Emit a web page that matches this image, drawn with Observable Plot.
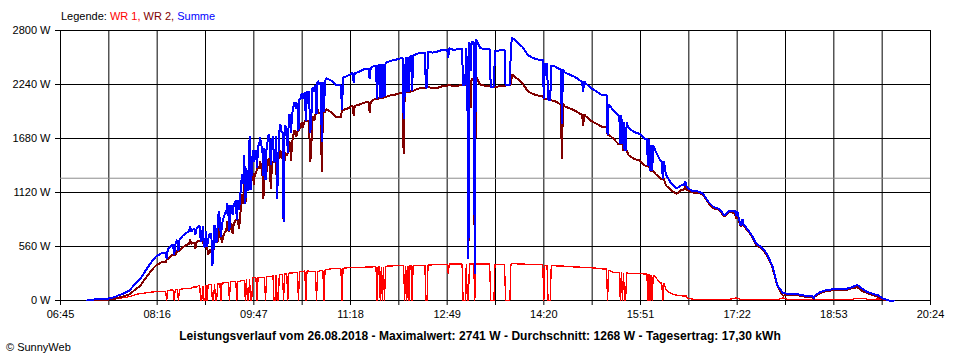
<!DOCTYPE html>
<html>
<head>
<meta charset="utf-8">
<script src="https://cdn.jsdelivr.net/npm/d3@7"></script>
<script src="https://cdn.jsdelivr.net/npm/@observablehq/plot@0.6"></script>
<style>
  html, body { margin: 0; padding: 0; background: #fff; }
  #wrap { position: relative; width: 960px; height: 360px; font-family: "Liberation Sans", Arial, sans-serif; color: #000; overflow: hidden; }
  #chart { position: absolute; left: 0; top: 0; }
  #legend { position: absolute; left: 61px; top: 11px; font-size: 11px; line-height: 11px; white-space: pre; }
  #caption { position: absolute; left: 0; width: 960px; top: 330px; text-align: center; font-size: 12px; line-height: 12px; font-weight: bold; letter-spacing: 0.05px; white-space: pre; }
  #copy { position: absolute; left: 6px; top: 342px; font-size: 11px; line-height: 11px; white-space: pre; }
</style>
</head>
<body>
<div id="wrap">
  <div id="chart"></div>
  <div id="legend"></div>
  <div id="caption"></div>
  <div id="copy"></div>
</div>
<script>
// ---------------- data ----------------
const seriesNames = ["WR 1", "WR 2", "Summe"];
const seriesColors = ["#ff0000", "#800000", "#0000ff"];

const times = [
  "07:10","07:15","07:20","07:25","07:30","07:35","07:40","07:45","07:50","07:55",
  "08:00","08:05","08:10","08:15","08:20","08:25","08:30","08:35","08:40","08:45","08:50","08:55",
  "09:00","09:05","09:10","09:15","09:20","09:25","09:30","09:35","09:40","09:45","09:50","09:55",
  "10:00","10:05","10:10","10:15","10:20","10:25","10:30","10:35","10:40","10:45","10:50","10:55",
  "11:00","11:05","11:10","11:15","11:20","11:25","11:30","11:35","11:40","11:45","11:50","11:55",
  "12:00","12:05","12:10","12:15","12:20","12:25","12:30","12:35","12:40","12:45","12:50","12:55",
  "13:00","13:05","13:10","13:15","13:20","13:25","13:30","13:35","13:40","13:45","13:50","13:55",
  "14:00","14:05","14:10","14:15","14:20","14:25","14:30","14:35","14:40","14:45","14:50","14:55",
  "15:00","15:05","15:10","15:15","15:20","15:25","15:30","15:35","15:40","15:45","15:50","15:55",
  "16:00","16:05","16:10","16:15","16:20","16:25","16:30","16:35","16:40","16:45","16:50","16:55",
  "17:00","17:05","17:10","17:15","17:20","17:25","17:30","17:35","17:40","17:45","17:50","17:55",
  "18:00","18:05","18:10","18:15","18:20","18:25","18:30","18:35","18:40","18:45","18:50","18:55",
  "19:00","19:05","19:10","19:15","19:20","19:25","19:30","19:35","19:40","19:45","19:50"
];

// WR 1 (W), 5-minute readings
const wr1 = [
  0, 4, 6, 8, 10, 16, 25, 30, 40, 60,
  72, 78, 86, 92, 96, 104, 110, 114, 120, 128, 140, 155,
  162, 168, 172, 180, 188, 195, 200, 210, 225, 235, 240, 242,
  250, 265, 272, 276, 285, 292, 300, 305, 300, 300, 310, 320,
  329, 330, 335, 339, 340, 342, 345, 347, 350, 352, 355, 358,
  360, 362, 362, 365, 366, 366, 368, 370, 377, 376, 380, 378,
  380, 380, 380, 378, 380, 378, 375, 373, 372, 375, 382, 380,
  378, 375, 373, 372, 366, 362, 360, 358, 352, 350, 348, 345,
  340, 339, 335, 328, 315, 294, 294, 290, 280, 278, 277, 276,
  262, 242, 180, 110, 70, 55, 48, 25, 14, 12, 12, 12,
  12, 12, 12, 12, 25, 12, 12, 12, 12, 12, 12, 12,
  10, 28, 10, 10, 10, 10, 10, 10, 10, 10, 10, 10,
  10, 10, 12, 24, 24, 12, 12, 15, 10, 0, 0
];

// WR 2 (W), 5-minute readings
const wr2 = [
  0, 5, 7, 9, 10, 16, 30, 45, 65, 110,
  150, 230, 305, 365, 395, 430, 470, 515, 550, 585, 600, 620,
  560, 520, 610, 660, 720, 790, 840, 1000, 1150, 1320, 1370, 1340,
  1400, 1440, 1480, 1530, 1640, 1760, 1790, 1860, 1900, 1935, 1955, 1985,
  1950, 1900, 1975, 1990, 2020, 2025, 2050, 2060, 2085, 2100, 2110, 2125,
  2135, 2150, 2165, 2175, 2190, 2205, 2215, 2200, 2205, 2225, 2235, 2220,
  2230, 2240, 2300, 2330, 2240, 2225, 2215, 2215, 2225, 2240, 2345, 2300,
  2250, 2170, 2140, 2125, 2090, 2075, 2070, 2040, 2010, 1990, 1965, 1930,
  1905, 1860, 1830, 1800, 1720, 1684, 1625, 1556, 1504, 1469, 1452, 1400,
  1348, 1313, 1262, 1193, 1141, 1106, 1150, 1145, 1120, 1120, 1095, 1010,
  955, 940, 870, 920, 905, 775, 750, 680, 576, 541, 472, 351,
  146, 50, 59, 59, 52, 42, 35, 40, 76, 94, 104, 111,
  111, 111, 126, 138, 97, 74, 57, 37, 7, 0, 0
];

// one-minute readings that differ (drop-outs, dips, short peaks)
const wr1EventTimes = [
  "08:25","08:32","08:36","08:57","08:58","09:00","09:01","09:03","09:08","09:09","09:11","09:12",
  "09:16","09:24","09:31","09:39","09:41","09:42","09:44","09:45","09:50","09:58","10:06","10:07",
  "10:09","10:10","10:15","10:19","10:29","10:36","10:46","10:53","11:10","11:43","11:46","11:48",
  "11:50","12:09","12:11","12:13","12:16","12:29","12:30","12:50","13:04","13:05","13:06","13:08",
  "13:09","13:15","13:30","13:31","13:32","13:33","13:44","13:45","13:46","13:47","13:48","14:20",
  "14:24","14:25","14:26","15:20","15:32","15:34","15:36","15:37","15:58","16:00","16:02","16:12"
];
const wr1EventValues = [
  0,0,0,0,0,0,0,0,0,0,0,0,
  0,0,0,0,0,0,0,0,0,0,0,0,
  0,0,0,0,0,0,0,0,0,0,0,0,
  0,0,0,0,0,0,0,280,0,0,0,0,
  0,0,0,0,0,0,0,0,0,0,0,0,
  0,0,0,0,0,0,0,0,0,0,0,0
];
const wr2EventTimes = [
  "08:47","08:52","09:04","09:08","09:14","09:17","09:22","09:27","09:33","09:36","09:38","09:43",
  "09:47","09:53","09:56","09:58","10:01","10:03","10:09","10:12","10:15","10:18","10:22","10:27",
  "10:32","10:40","10:41","10:44","10:47","10:51","11:21","11:36","12:08","13:09","13:11","13:15",
  "14:37","14:57","16:33","17:21","17:27","18:34"
];
const wr2EventValues = [
  640, 540, 470, 363, 760, 600, 820, 690, 743, 1100, 1300, 1480,
  1200, 1450, 1054, 1250, 1480, 1158, 1054, 1560, 812, 1500, 1450, 1700,
  1850, 1434, 1540, 1860, 1980, 1330, 1918, 1950, 1520, 430, 2000, 270,
  1470, 1815, 1190, 850, 830, 14
];

const xDomain = ["06:45", "20:24"];
const xTickLabels = ["06:45","08:16","09:47","11:18","12:49","14:20","15:51","17:22","18:53","20:24"];
const yTicks = [0, 560, 1120, 1680, 2240, 2800];

const reportDate = "26.08.2018";
const maxValue = 2741;
const averageValue = 1268;
const dailyYield = "17,30";

// ---------------- build table ----------------
const toMin = s => { const [h, m] = s.split(":").map(Number); return h * 60 + m; };
const gridM = times.map(toMin);
function held(arr, m) {
  let v = 0;
  for (let i = 0; i < gridM.length; i++) { if (gridM[i] <= m) v = arr[i]; else break; }
  return v;
}
const ev1 = new Map(wr1EventTimes.map((t, i) => [toMin(t), wr1EventValues[i]]));
const ev2 = new Map(wr2EventTimes.map((t, i) => [toMin(t), wr2EventValues[i]]));
const breaks = new Set(gridM);
for (const m of [...ev1.keys(), ...ev2.keys()]) { breaks.add(m - 1); breaks.add(m); breaks.add(m + 1); }
const rows = [...breaks].sort((a, b) => a - b).map(m => {
  const a = ev1.has(m) ? ev1.get(m) : held(wr1, m);
  const b = ev2.has(m) ? ev2.get(m) : held(wr2, m);
  return { m, wr1: a, wr2: b, sum: a + b };
});

const labeled = xTickLabels.map(toMin);
const allTicks = [];
labeled.forEach((v, i) => { allTicks.push(v); if (i < labeled.length - 1) allTicks.push((v + labeled[i + 1]) / 2); });
const labelAt = new Map(labeled.map((v, i) => [v, xTickLabels[i]]));

const lineOpts = { x: "m", curve: "linear", shapeRendering: "crispEdges", strokeLinejoin: "miter", strokeMiterlimit: 1 };

const chart = Plot.plot({
  width: 960,
  height: 360,
  marginLeft: 60,
  marginRight: 30,
  marginTop: 30,
  marginBottom: 60,
  style: { fontFamily: "'Liberation Sans', Arial, sans-serif", fontSize: "11px", color: "#000", background: "#fff", overflow: "visible" },
  x: { domain: xDomain.map(toMin) },
  y: { domain: [0, 2800] },
  marks: [
    Plot.gridX(allTicks, { stroke: "#000", strokeOpacity: 1 }),
    Plot.gridY(yTicks, { stroke: "#000", strokeOpacity: 1 }),
    Plot.ruleY([averageValue], { stroke: "#8c8c8c" }),
    Plot.axisX(allTicks, { tickSize: 5, tickPadding: 5, tickFormat: d => labelAt.get(d) || "", stroke: "#000", fill: "#000", label: null }),
    Plot.axisY(yTicks, { tickSize: 5, tickPadding: 5, tickFormat: d => `${d} W`, stroke: "#000", fill: "#000", label: null }),
    Plot.line(rows, { ...lineOpts, y: "wr1", stroke: seriesColors[0], strokeWidth: 1.3 }),
    Plot.line(rows, { ...lineOpts, y: "wr2", stroke: seriesColors[1], strokeWidth: 2 }),
    Plot.line(rows, { ...lineOpts, y: "sum", stroke: seriesColors[2], strokeWidth: 2 })
  ]
});
document.getElementById("chart").appendChild(chart);

// legend
const legend = document.getElementById("legend");
legend.appendChild(document.createTextNode("Legende: "));
seriesNames.forEach((n, i) => {
  const s = document.createElement("span");
  s.style.color = seriesColors[i];
  s.textContent = n + (i < seriesNames.length - 1 ? ", " : "");
  legend.appendChild(s);
});

document.getElementById("caption").textContent =
  `Leistungsverlauf vom ${reportDate} - Maximalwert: ${maxValue} W - Durchschnitt: ${averageValue} W - Tagesertrag: ${dailyYield} kWh`;
document.getElementById("copy").textContent = "© SunnyWeb";
</script>
</body>
</html>
